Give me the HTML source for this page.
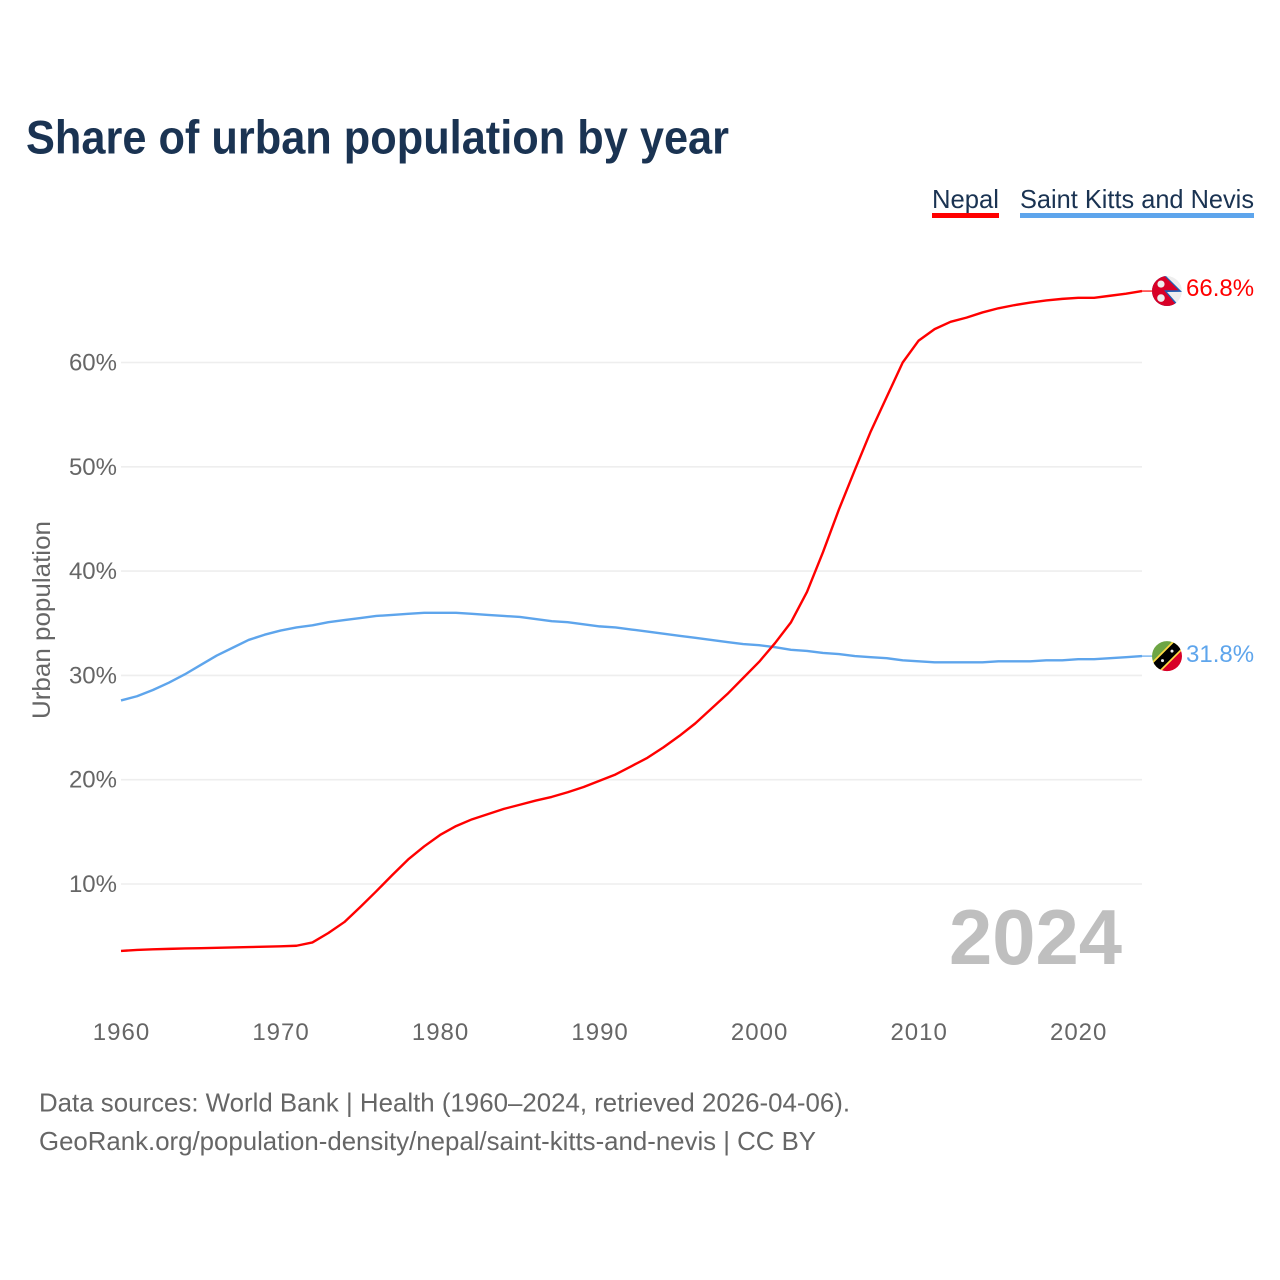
<!DOCTYPE html>
<html lang="en">
<head>
<meta charset="utf-8">
<title>Share of urban population by year</title>
<style>
html,body{margin:0;padding:0;background:#fff;}
svg{display:block;font-family:"Liberation Sans",sans-serif;}
</style>
</head>
<body>
<svg id="chart" xmlns="http://www.w3.org/2000/svg" width="1280" height="1280" viewBox="0 0 1280 1280">
  <defs>
    <clipPath id="flag-clip"><circle cx="0" cy="0" r="15"/></clipPath>
  </defs>
  <rect x="0" y="0" width="1280" height="1280" fill="#ffffff"/>
  <text x="26" y="153.5" font-size="47" font-weight="700" fill="#1a3352" textLength="703" lengthAdjust="spacingAndGlyphs">Share of urban population by year</text>

  <g>
    <text x="932" y="208" font-size="26" fill="#1a3352" textLength="67" lengthAdjust="spacingAndGlyphs">Nepal</text>
    <rect x="932" y="213" width="67" height="5" fill="#ff0000"/>
  </g>
  <g>
    <text x="1020" y="208" font-size="26" fill="#1a3352" textLength="234" lengthAdjust="spacingAndGlyphs">Saint Kitts and Nevis</text>
    <rect x="1020" y="213" width="234" height="5" fill="#5ea5ec"/>
  </g>

  <g id="grid"></g>
  <g id="y-ticks"></g>
  <g id="x-ticks"></g>

  <text transform="translate(50,620) rotate(-90)" text-anchor="middle" font-size="25" fill="#666666" textLength="198" lengthAdjust="spacingAndGlyphs">Urban population</text>

  <text x="949" y="964" font-size="78" font-weight="700" fill="#bfbfbf" textLength="173" lengthAdjust="spacingAndGlyphs">2024</text>

  <g id="lines"></g>

  <g id="flag-nepal" clip-path="url(#flag-clip)">
    <circle cx="0" cy="0" r="15" fill="#eeeeee"/>
    <polygon points="-16,-17 -3,-17 15,0.8 0,1 10.5,13 9,17 -16,17" fill="#1f5fb4"/>
    <polygon points="-16,-17 -4.5,-17 11.5,-0.8 -3,-0.8 8.5,13 7,17 -16,17" fill="#d80027"/>
    <circle cx="-6" cy="-7" r="3.6" fill="#eeeeee"/>
    <circle cx="-6" cy="7" r="3.8" fill="#eeeeee"/>
  </g>
  <g id="flag-kn" clip-path="url(#flag-clip)">
    <polygon points="-16,-16 16,-16 -16,16" fill="#6da544"/>
    <polygon points="16,-16 16,16 -16,16" fill="#d80027"/>
    <line x1="-16" y1="16" x2="16" y2="-16" stroke="#ffda44" stroke-width="13"/>
    <line x1="-16" y1="16" x2="16" y2="-16" stroke="#000000" stroke-width="9.5"/>
    <circle cx="-4.5" cy="4.5" r="1.5" fill="#eeeeee"/>
    <circle cx="5" cy="-5" r="1.5" fill="#eeeeee"/>
  </g>

  <text id="label-nepal" x="1186" y="296" font-size="24" fill="#ff0000">66.8%</text>
  <text id="label-kn" x="1186" y="662" font-size="24" fill="#5ea5ec">31.8%</text>

  <text x="39" y="1111.5" font-size="26" fill="#666666" textLength="811" lengthAdjust="spacingAndGlyphs">Data sources: World Bank | Health (1960–2024, retrieved 2026-04-06).</text>
  <text x="39" y="1150" font-size="26" fill="#666666" textLength="777" lengthAdjust="spacingAndGlyphs">GeoRank.org/population-density/nepal/saint-kitts-and-nevis | CC BY</text>
</svg>
<script>
const firstYear = 1960;
const nepalValues = [3.58,3.68,3.74,3.78,3.82,3.85,3.88,3.92,3.95,3.99,4.03,4.08,4.4,5.3,6.35,7.8,9.3,10.85,12.35,13.6,14.7,15.55,16.2,16.7,17.2,17.6,18.0,18.35,18.8,19.3,19.9,20.5,21.3,22.1,23.1,24.2,25.4,26.8,28.2,29.75,31.3,33.1,35.1,38.0,41.8,45.9,49.7,53.4,56.7,60.0,62.1,63.2,63.9,64.3,64.8,65.2,65.5,65.75,65.95,66.1,66.2,66.2,66.4,66.6,66.85];
const kittsValues = [27.6,28.0,28.6,29.3,30.1,31.0,31.9,32.65,33.4,33.9,34.3,34.6,34.8,35.1,35.3,35.5,35.7,35.8,35.9,36.0,36.0,36.0,35.9,35.8,35.7,35.6,35.4,35.2,35.1,34.9,34.7,34.6,34.4,34.2,34.0,33.8,33.6,33.4,33.2,33.0,32.9,32.7,32.45,32.35,32.15,32.05,31.85,31.75,31.65,31.45,31.35,31.25,31.25,31.25,31.25,31.35,31.35,31.35,31.45,31.45,31.55,31.55,31.65,31.75,31.85];
const yTickValues = [10,20,30,40,50,60];
const xTickYears = [1960,1970,1980,1990,2000,2010,2020];

const SVGNS = 'http://www.w3.org/2000/svg';
function xScale(year){ return 121 + (year - 1960) * 15.953; }
function yScale(v){ return 988.3 - v * 10.43; }
function make(tag, attrs, parent){
  const el = document.createElementNS(SVGNS, tag);
  for (const k in attrs) el.setAttribute(k, attrs[k]);
  parent.appendChild(el);
  return el;
}

const gridGroup = document.getElementById('grid');
const yTickGroup = document.getElementById('y-ticks');
yTickValues.forEach(function(v){
  const line = make('line', {x1:121, x2:1142, y1:yScale(v), y2:yScale(v), stroke:'#eeeeee', 'stroke-width':1.6}, gridGroup);
  
  
  const label = make('text', {x:117, y:yScale(v)+8, 'text-anchor':'end', 'font-size':24, fill:'#666666'}, yTickGroup);
  
  
  label.textContent = v + '%';
});

const xTickGroup = document.getElementById('x-ticks');
xTickYears.forEach(function(year){
  const label = make('text', {x:xScale(year)+0.5, y:1040, 'text-anchor':'middle', 'font-size':24, 'letter-spacing':'1', fill:'#666666'}, xTickGroup);
  
  
  label.textContent = year;
});

function linePoints(values){
  return values.map(function(v, i){
    return xScale(firstYear + i).toFixed(2) + ',' + yScale(v).toFixed(2);
  }).join(' ');
}
const lineGroup = document.getElementById('lines');

const kittsLine = make('polyline', {points:linePoints(kittsValues), fill:'none', stroke:'#5ea5ec', 'stroke-width':2.4, 'stroke-linejoin':'round'}, lineGroup);



const nepalLine = make('polyline', {points:linePoints(nepalValues), fill:'none', stroke:'#ff0000', 'stroke-width':2.4, 'stroke-linejoin':'round'}, lineGroup);



const lastNepal = yScale(nepalValues[nepalValues.length - 1]);
const lastKitts = yScale(kittsValues[kittsValues.length - 1]);

const nepalLead = make('line', {x1:1142, x2:1152, y1:lastNepal, y2:lastNepal, stroke:'#ff0000', 'stroke-width':1.2}, lineGroup);



const kittsLead = make('line', {x1:1142, x2:1152, y1:lastKitts, y2:lastKitts, stroke:'#5ea5ec', 'stroke-width':1.2}, lineGroup);



document.getElementById('flag-nepal').setAttribute('transform', 'translate(1167,' + lastNepal.toFixed(2) + ')');
document.getElementById('flag-kn').setAttribute('transform', 'translate(1167,' + lastKitts.toFixed(2) + ')');
document.getElementById('label-nepal').setAttribute('y', (lastNepal + 5).toFixed(2));
document.getElementById('label-kn').setAttribute('y', (lastKitts + 6).toFixed(2));
</script>
</body>
</html>
